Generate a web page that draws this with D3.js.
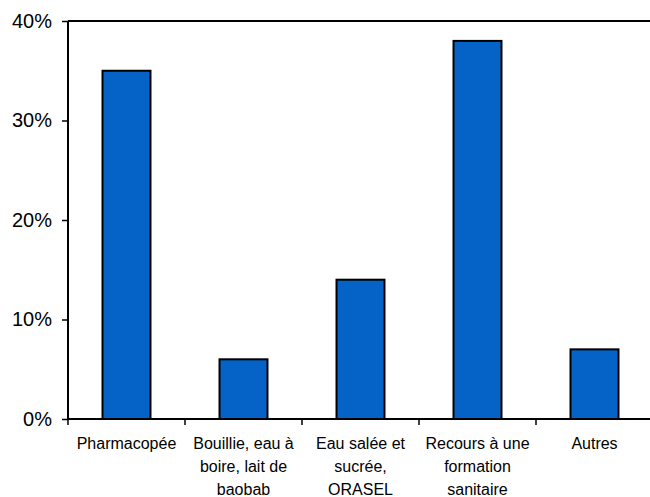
<!DOCTYPE html>
<html>
<head>
<meta charset="utf-8">
<script src="https://cdn.jsdelivr.net/npm/d3@7"></script>
<style>
  html, body { margin: 0; padding: 0; background: #fff; }
  svg { display: block; }
</style>
</head>
<body>
<svg id="chart" width="650" height="497"></svg>
<script>
// Category labels, one entry per line of the wrapped label
const categories = [
  ["Pharmacopée"],
  ["Bouillie, eau à", "boire, lait de", "baobab"],
  ["Eau salée et", "sucrée,", "ORASEL"],
  ["Recours à une", "formation", "sanitaire"],
  ["Autres"]
];
const values = [35, 6, 14, 38, 7];
const yTicks = [0, 10, 20, 30, 40];

const svg = d3.select("#chart");
const margin = { left: 68, right: -3, top: 21, bottom: 78 };
const W = 650, H = 497;
const x0 = margin.left, x1 = W - margin.right;
const y0 = H - margin.bottom, y1 = margin.top;

const keys = categories.map((d, i) => i);

// Category slots (for ticks) and bar positions within them
const xSlot = d3.scaleBand().domain(keys).range([x0, x1]).padding(0);
const xBar = d3.scaleBand().domain(keys).range([x0, x1])
  .paddingInner(0.59).paddingOuter(0.295);
const y = d3.scaleLinear().domain([0, 40]).range([y0, y1]);

const font = "'Liberation Sans', Arial, sans-serif";

// Bars
svg.append("g").selectAll("rect")
  .data(values)
  .join("rect")
  .attr("x", (d, i) => xBar(i))
  .attr("y", d => y(d))
  .attr("width", xBar.bandwidth())
  .attr("height", d => y(0) - y(d))
  .attr("fill", "#0563C8")
  .attr("stroke", "#000")
  .attr("stroke-width", 2);

// Top frame line
svg.append("line")
  .attr("x1", x0).attr("x2", W)
  .attr("y1", y(40)).attr("y2", y(40))
  .attr("stroke", "#000").attr("stroke-width", 2);

// Y axis
const yAxis = d3.axisLeft(y)
  .tickValues(yTicks)
  .tickFormat(d => d + "%")
  .tickSize(6)
  .tickPadding(10);
const gy = svg.append("g").attr("transform", `translate(${x0},0)`).call(yAxis);
gy.select(".domain").attr("stroke", "#000").attr("stroke-width", 2)
  .attr("d", `M0,${y0}V${y1}`);
gy.selectAll(".tick line").attr("stroke", "#000").attr("stroke-width", 1.5);
gy.selectAll(".tick text")
  .attr("font-family", font).attr("font-size", 20).attr("fill", "#000");

// X axis: ticks on slot boundaries
const gx = svg.append("g").attr("transform", `translate(0,${y0})`);
gx.append("line")
  .attr("x1", x0).attr("x2", W)
  .attr("y1", 0).attr("y2", 0)
  .attr("stroke", "#000").attr("stroke-width", 2);
const boundaries = keys.map(k => xSlot(k)).concat([xSlot(keys[keys.length - 1]) + xSlot.step()]);
gx.selectAll("line.tk")
  .data(boundaries.filter(b => b <= W))
  .join("line")
  .attr("class", "tk")
  .attr("x1", d => d).attr("x2", d => d)
  .attr("y1", 0).attr("y2", 6)
  .attr("stroke", "#000").attr("stroke-width", 1.5);

// Category labels
const lab = gx.selectAll("text.cat")
  .data(categories)
  .join("text")
  .attr("class", "cat")
  .attr("text-anchor", "middle")
  .attr("font-family", font)
  .attr("font-size", 16)
  .attr("fill", "#000")
  .attr("transform", (d, i) => `translate(${xSlot(i) + xSlot.bandwidth() / 2},30)`);
lab.selectAll("tspan")
  .data(d => d)
  .join("tspan")
  .attr("x", 0)
  .attr("y", (d, i) => i * 23)
  .text(d => d);
</script>
</body>
</html>
